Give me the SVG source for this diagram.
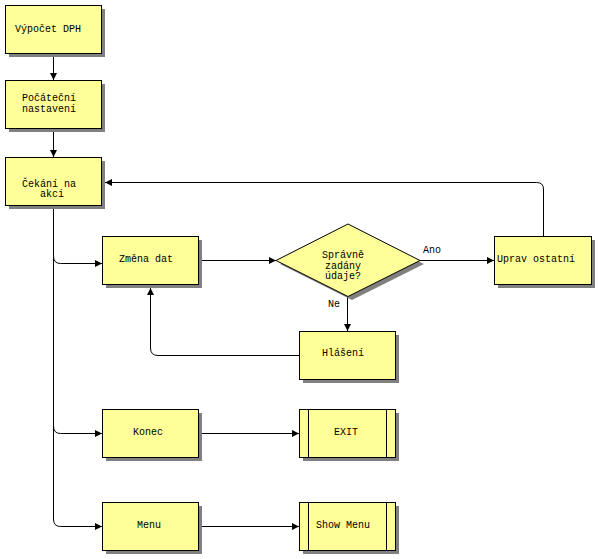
<svg xmlns="http://www.w3.org/2000/svg" width="599" height="559" viewBox="0 0 599 559">
<style>
.box{fill:#ffff99;stroke:#000;stroke-width:1}
.sh{fill:#808080}
.t{font-family:"Liberation Mono","DejaVu Sans Mono",monospace;font-size:10px;fill:#000}
.m{text-anchor:middle}
.c{fill:none;stroke:#000;stroke-width:1}
</style>
<defs>
<marker id="ah" viewBox="0 0 8 8" refX="8" refY="4" markerWidth="7" markerHeight="7" markerUnits="userSpaceOnUse" orient="auto">
<path d="M0,0 L8,4 L0,8 Z" fill="#000"/>
</marker>
</defs>
<rect width="599" height="559" fill="#fff"/>
<g id="connectors">
<path class="c" d="M53.5,53 V80" marker-end="url(#ah)"/>
<path class="c" d="M53.5,128 V157" marker-end="url(#ah)"/>
<path class="c" d="M543.5,236 V189 Q543.5,182.5 536.5,182.5 H105" marker-end="url(#ah)"/>
<path class="c" d="M53.5,205 V519 Q53.5,526.5 60.5,526.5 H102" marker-end="url(#ah)"/>
<path class="c" d="M53.5,256 Q53.5,263.5 60.5,263.5 H102" marker-end="url(#ah)"/>
<path class="c" d="M53.5,426 Q53.5,433.5 60.5,433.5 H102" marker-end="url(#ah)"/>
<path class="c" d="M202,260.5 H276" marker-end="url(#ah)"/>
<path class="c" d="M420,260.5 H494" marker-end="url(#ah)"/>
<path class="c" d="M347.5,296 V331" marker-end="url(#ah)"/>
<path class="c" d="M299,355.5 H158 Q150.5,355.5 150.5,348 V288" marker-end="url(#ah)"/>
<path class="c" d="M202,433.5 H299" marker-end="url(#ah)"/>
<path class="c" d="M202,526.5 H299" marker-end="url(#ah)"/>
<text class="t" x="423" y="253">Ano</text>
<text class="t" x="328" y="307">Ne</text>
</g>
<g id="n1">
<rect class="sh" x="9" y="9" width="96" height="48"/>
<rect class="box" x="5.5" y="5.5" width="96" height="48"/>
<text class="t" x="15" y="32">Výpočet DPH</text>
</g>
<g id="n2">
<rect class="sh" x="9" y="84" width="96" height="48"/>
<rect class="box" x="5.5" y="80.5" width="96" height="48"/>
<text class="t" x="22" y="101">Počáteční</text>
<text class="t" x="22" y="112">nastavení</text>
</g>
<g id="n3">
<rect class="sh" x="9" y="161" width="96" height="48"/>
<rect class="box" x="5.5" y="157.5" width="96" height="48"/>
<text class="t m" x="49" y="187">Čekání na</text>
<text class="t m" x="52" y="197">akci</text>
</g>
<g id="n4">
<rect class="sh" x="106" y="240" width="96" height="48"/>
<rect class="box" x="102.5" y="236.5" width="96" height="48"/>
<text class="t m" x="146" y="262">Změna dat</text>
</g>
<g id="n5">
<polygon class="sh" points="280,264 352,228 424,264 352,300"/>
<polygon class="box" points="276,260.5 348,224 420,260.5 348,296.5"/>
<text class="t m" x="343" y="258">Správně</text>
<text class="t m" x="343" y="268.5">zadány</text>
<text class="t m" x="343" y="279">údaje?</text>
</g>
<g id="n6">
<rect class="sh" x="498" y="240" width="97" height="48"/>
<rect class="box" x="494.5" y="236.5" width="97" height="48"/>
<text class="t" x="497" y="262">Uprav ostatní</text>
</g>
<g id="n7">
<rect class="sh" x="303" y="335" width="96" height="48"/>
<rect class="box" x="299.5" y="331.5" width="96" height="48"/>
<text class="t m" x="343" y="356">Hlášení</text>
</g>
<g id="n8">
<rect class="sh" x="106" y="413" width="96" height="48"/>
<rect class="box" x="102.5" y="409.5" width="96" height="48"/>
<text class="t m" x="148" y="435">Konec</text>
</g>
<g id="n9">
<rect class="sh" x="303" y="413" width="96" height="48"/>
<rect class="box" x="299.5" y="409.5" width="96" height="48"/>
<path class="c" d="M308.5,409.5 V457.5 M386.5,409.5 V457.5"/>
<text class="t m" x="346" y="435">EXIT</text>
</g>
<g id="n10">
<rect class="sh" x="106" y="506" width="96" height="48"/>
<rect class="box" x="102.5" y="502.5" width="96" height="48"/>
<text class="t m" x="149" y="528">Menu</text>
</g>
<g id="n11">
<rect class="sh" x="303" y="506" width="96" height="48"/>
<rect class="box" x="299.5" y="502.5" width="96" height="48"/>
<path class="c" d="M308.5,502.5 V550.5 M386.5,502.5 V550.5"/>
<text class="t m" x="343" y="528">Show Menu</text>
</g>
</svg>
